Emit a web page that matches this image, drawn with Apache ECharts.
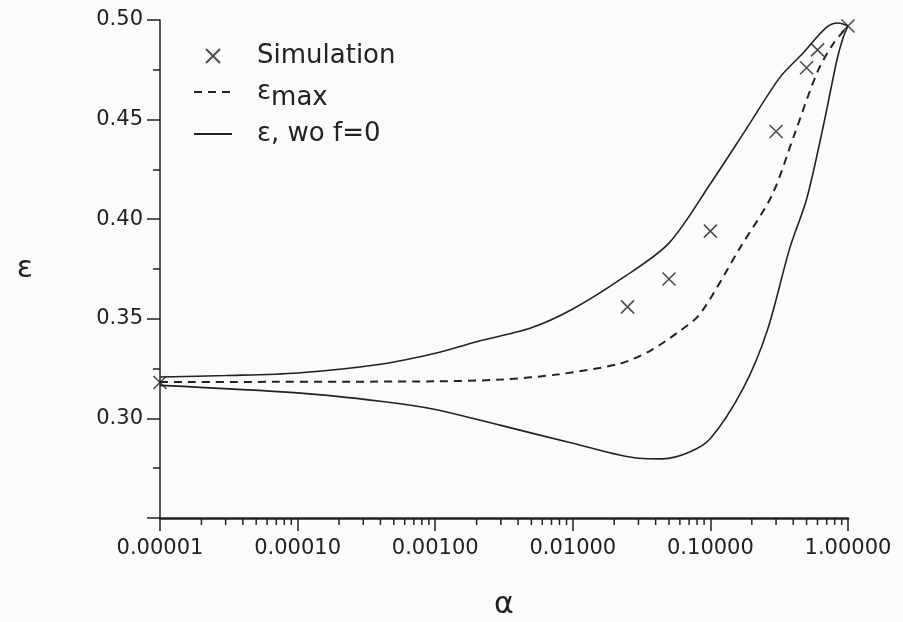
<!DOCTYPE html>
<html>
<head>
<meta charset="utf-8">
<script src="https://cdn.jsdelivr.net/npm/echarts@6/dist/echarts.min.js"></script>
<style>
  html, body { margin: 0; padding: 0; background: #fbfbfb; }
  #main { width: 903px; height: 622px; }
</style>
</head>
<body>
<div id="main"></div>
<script>
// 模拟点 (alpha, epsilon)
var simAlpha = [0.00001, 0.025, 0.05, 0.1, 0.3, 0.5, 0.6, 1.0]
var simEps = [0.318, 0.356, 0.370, 0.394, 0.444, 0.476, 0.485, 0.497]

// epsilon_max 虚线
var maxAlpha = [0.00001, 0.001, 0.003, 0.008, 0.022, 0.036, 0.057, 0.084, 0.164, 0.28, 0.41, 0.6, 0.78, 1.0]
var maxEps = [0.3183, 0.3186, 0.3195, 0.3222, 0.3275, 0.3337, 0.3428, 0.3524, 0.3856, 0.412, 0.443, 0.474, 0.488, 0.497]

// 上包络线
var upAlpha = [0.00001, 0.00003, 0.0001, 0.0004, 0.001, 0.002, 0.005, 0.01, 0.023, 0.05, 0.1, 0.185, 0.32, 0.47, 0.7, 0.85, 1.0]
var upEps = [0.3208, 0.3215, 0.3228, 0.3272, 0.3327, 0.3385, 0.3455, 0.3549, 0.3705, 0.388, 0.4178, 0.446, 0.4712, 0.4833, 0.4964, 0.4985, 0.497]

// 下包络线
var lowAlpha = [0.00001, 0.0001, 0.0004, 0.001, 0.003, 0.01, 0.03, 0.045, 0.07, 0.1, 0.173, 0.258, 0.378, 0.5, 0.658, 0.83, 0.92, 1.0]
var lowEps = [0.3166, 0.3128, 0.3086, 0.3045, 0.2965, 0.2875, 0.2800, 0.2797, 0.2830, 0.2899, 0.3151, 0.3438, 0.3856, 0.410, 0.446, 0.4798, 0.491, 0.497]

var xTickLabels = ['0.00001', '0.00010', '0.00100', '0.01000', '0.10000', '1.00000']

function pairs (xs, ys) {
  return xs.map(function (x, i) { return [x, ys[i]] })
}

// 对数轴的次刻度 2..9
var minorTicks = []
for (var k = -5; k < 0; k++) {
  for (var m = 2; m <= 9; m++) {
    minorTicks.push([m * Math.pow(10, k), 0.25])
  }
}

var ink = '#222'
var font = 'DejaVu Sans'

var myChart = echarts.init(document.getElementById('main'))
myChart.setOption({
  backgroundColor: '#fbfbfb',
  animation: false,
  textStyle: { fontFamily: font, color: ink },
  grid: { left: 160, right: 55, top: 20, bottom: 104, containLabel: false, outerBoundsMode: 'none' },
  legend: {
    orient: 'vertical',
    left: 188,
    top: 38,
    itemWidth: 38,
    itemHeight: 14,
    itemGap: 10,
    data: [
      { name: 'Simulation' },
      { name: 'emax', itemStyle: { opacity: 0 } },
      { name: 'ewo', itemStyle: { opacity: 0 } }
    ],
    textStyle: {
      fontFamily: font,
      fontSize: 26,
      color: ink,
      padding: [0, 0, 0, 20],
      rich: {
        e: { fontFamily: font, fontSize: 26, color: ink },
        s: { fontFamily: font, fontSize: 26, color: ink, padding: [12, 0, 0, 0] }
      }
    },
    formatter: function (name) {
      if (name === 'emax') return '{e|ε}{s|max}'
      if (name === 'ewo') return 'ε, wo f=0'
      return name
    }
  },
  xAxis: {
    type: 'log',
    logBase: 10,
    min: 0.00001,
    max: 1,
    splitNumber: 5,
    name: 'α',
    nameLocation: 'middle',
    nameGap: 72,
    nameTextStyle: { fontFamily: font, fontSize: 30, color: ink },
    axisLine: { lineStyle: { color: ink, width: 2.5 } },
    axisTick: { show: true, length: 13, lineStyle: { color: ink, width: 1.5 } },
    axisLabel: {
      margin: 20,
      fontFamily: font,
      fontSize: 21,
      color: ink,
      formatter: function (v) {
        var idx = Math.round(Math.log10(v)) + 5
        return xTickLabels[idx] || v.toFixed(5)
      }
    },
    splitLine: { show: false }
  },
  yAxis: {
    type: 'value',
    min: 0.25,
    max: 0.5,
    interval: 0.05,
    name: 'ε',
    nameLocation: 'middle',
    nameRotate: 0,
    nameGap: 127,
    nameTextStyle: { fontFamily: font, fontSize: 30, color: ink },
    axisLine: { show: true, lineStyle: { color: ink, width: 1.5 } },
    axisTick: { show: true, length: 13, lineStyle: { color: ink, width: 1.5 } },
    minorTick: { show: true, splitNumber: 2, length: 7, lineStyle: { color: ink, width: 1.5 } },
    axisLabel: {
      margin: 17,
      fontFamily: font,
      fontSize: 21,
      color: ink,
      formatter: function (v) {
        return v < 0.26 ? '' : v.toFixed(2)
      }
    },
    splitLine: { show: false }
  },
  series: [
    {
      name: 'Simulation',
      type: 'scatter',
      symbol: 'path://M0,0L10,10M10,0L0,10',
      symbolSize: 13,
      itemStyle: { color: 'transparent', borderColor: ink, borderWidth: 1.6 },
      data: pairs(simAlpha, simEps),
      z: 5
    },
    {
      name: 'emax',
      type: 'line',
      smooth: 0.3,
      symbol: 'none',
      itemStyle: { color: ink },
      lineStyle: { color: ink, width: 2, type: [8, 6] },
      data: pairs(maxAlpha, maxEps)
    },
    {
      name: 'ewo',
      type: 'line',
      smooth: 0.3,
      symbol: 'none',
      itemStyle: { color: ink },
      lineStyle: { color: ink, width: 1.6 },
      data: pairs(upAlpha, upEps)
    },
    {
      name: 'ewo',
      type: 'line',
      smooth: 0.3,
      symbol: 'none',
      itemStyle: { color: ink },
      lineStyle: { color: ink, width: 1.6 },
      data: pairs(lowAlpha, lowEps)
    },
    {
      // x轴次刻度
      type: 'custom',
      silent: true,
      clip: false,
      data: minorTicks,
      renderItem: function (params, api) {
        var p = api.coord([api.value(0), api.value(1)])
        return {
          type: 'line',
          shape: { x1: p[0], y1: p[1], x2: p[0], y2: p[1] + 7 },
          style: { stroke: ink, lineWidth: 1.5 }
        }
      }
    }
  ]
})
window.addEventListener('resize', function () {
  myChart.resize()
})
</script>
</body>
</html>
